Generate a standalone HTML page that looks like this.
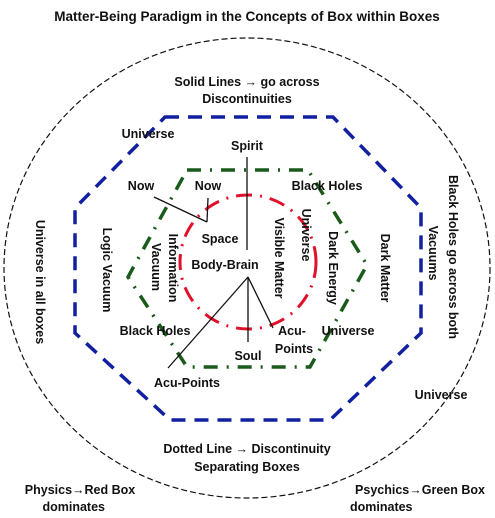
<!DOCTYPE html>
<html><head><meta charset="utf-8"><style>
html,body{margin:0;padding:0;background:#fff;}
svg{display:block;}
text{font-family:"Liberation Sans",Arial,sans-serif;font-weight:bold;font-size:12.5px;fill:#111;text-anchor:middle;}
</style></head><body>
<svg width="495" height="518" viewBox="0 0 495 518">
<text x="247" y="21" style="font-size:13.5px">Matter-Being Paradigm in the Concepts of Box within Boxes</text>
<ellipse cx="247" cy="268" rx="243" ry="230" fill="none" stroke="#111" stroke-width="1.2" stroke-dasharray="6,3"/>
<polygon points="165,117 333,117 421,208 421,333 330,420 170,420 75,333 75,208" fill="none" stroke="#1020a0" stroke-width="3.5" stroke-dasharray="14,9"/>
<polygon points="187,170 308,170 367,265 310,367 187,367 128,277" fill="none" stroke="#1a5a1a" stroke-width="3.5" stroke-dasharray="14,9,2,9"/>
<ellipse cx="248" cy="262" rx="68" ry="67" fill="none" stroke="#e0102a" stroke-width="3" stroke-dasharray="16,8,2,8"/>
<g stroke="#111" stroke-width="1.3">
<line x1="247" y1="157" x2="247" y2="250"/>
<line x1="154" y1="197" x2="207" y2="222"/>
<line x1="208" y1="198" x2="207" y2="222"/>
<line x1="248" y1="277" x2="168" y2="368"/>
<line x1="248" y1="277" x2="248" y2="342"/>
<line x1="248" y1="277" x2="273" y2="328"/>
</g>
<text x="247" y="86">Solid Lines → go across</text>
<text x="247" y="103">Discontinuities</text>
<text x="148" y="138">Universe</text>
<text x="247" y="150">Spirit</text>
<text x="141" y="190">Now</text>
<text x="208" y="190">Now</text>
<text x="327" y="190">Black Holes</text>
<text x="220" y="243">Space</text>
<text x="225" y="269">Body-Brain</text>
<text x="155" y="335">Black Holes</text>
<text x="292" y="335">Acu-</text>
<text x="294" y="353">Points</text>
<text x="348" y="335">Universe</text>
<text x="248" y="360">Soul</text>
<text x="187" y="387">Acu-Points</text>
<text x="441" y="399">Universe</text>
<g>
<text transform="translate(103,270) rotate(90)">Logic Vacuum</text>
<text transform="translate(152,267) rotate(90)">Vacuum</text>
<text transform="translate(169,268) rotate(90)">Information</text>
<text transform="translate(275,258) rotate(90)">Visible Matter</text>
<text transform="translate(302,235) rotate(90)">Universe</text>
<text transform="translate(329,268) rotate(90)">Dark Energy</text>
<text transform="translate(381,268) rotate(90)">Dark Matter</text>
<text transform="translate(429,253) rotate(90)">Vacuums</text>
<text transform="translate(449,257) rotate(90)">Black Holes go across both</text>
<text transform="translate(36,282) rotate(90)">Universe in all boxes</text>
</g>
<text x="247" y="453">Dotted Line → Discontinuity</text>
<text x="247" y="471">Separating Boxes</text>
<text x="80" y="494">Physics→Red Box</text>
<text x="105" y="511" style="text-anchor:end">dominates</text>
<text x="420" y="494">Psychics→Green Box</text>
<text x="350" y="511" style="text-anchor:start">dominates</text>
</svg>
</body></html>
